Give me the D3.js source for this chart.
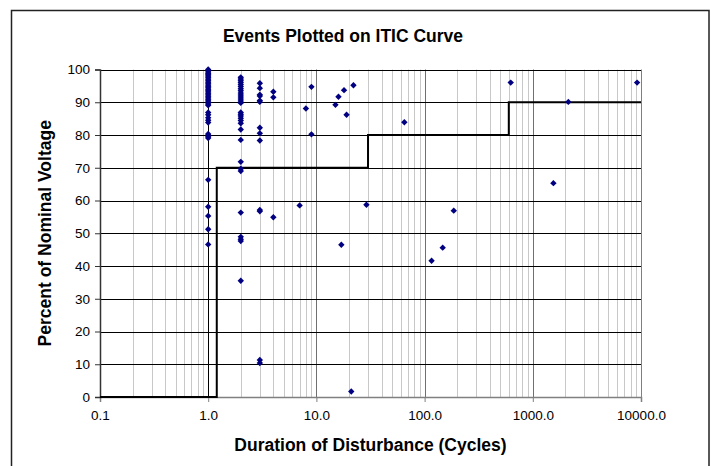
<!DOCTYPE html>
<html><head><meta charset="utf-8">
<script src="https://cdn.jsdelivr.net/npm/d3@7"></script>
<style>body{margin:0;background:#fff}svg{display:block}text{font-family:"Liberation Sans",Arial,sans-serif}</style>
</head><body><div id="chart"></div>
<script>
const titleText = "Events Plotted on ITIC Curve";
const xTitle = "Duration of Disturbance (Cycles)";
const yTitle = "Percent of Nominal Voltage";
const xTickVals = [0.1, 1, 10, 100, 1000, 10000];
const xTickLabels = ["0.1", "1.0", "10.0", "100.0", "1000.0", "10000.0"];
const yTickVals = [0, 10, 20, 30, 40, 50, 60, 70, 80, 90, 100];
const iticX = [0.1, 1.2, 1.2, 30, 30, 600, 600, 10000];
const iticY = [0, 0, 70, 70, 80, 80, 90, 90];
const eventX = [
  1,1,1,1,1,1,1,1,1,1,1,1,1,1,1,1,1,1,1,1,1,1,1,1,1,1,1,1,1,1,1,1,1,1,1,1,1,1,1,1,
  2,2,2,2,2,2,2,2,2,2,2,2,2,2,2,2,2,2,2,2,2,2,2,2,2,2,2,2,2,2,
  3,3,3,3,3,3,3,3,3,3,3,3,3,
  4,4,4,
  7,8,9,9,15,16,18,19,22,17,21,29,65,116,147,186,625,9200,2130,1550
];
const eventY = [
  100,99.6,99.2,98.8,98.4,98.0,97.6,97.1,96.7,96.2,95.8,95.3,94.9,94.4,94.0,93.5,93.1,92.6,92.2,91.7,91.3,90.8,90.4,89.9,89.5,89.1,86.9,86.2,85.3,84.5,83.8,80.3,79.9,79.5,79.1,66.3,58.1,55.3,51.2,46.6,
  97.6,97.1,96.6,96.0,95.4,94.8,94.1,93.5,92.8,92.2,91.6,91.0,90.4,89.8,86.9,86.3,85.8,85.1,84.4,83.6,81.7,78.5,71.8,69.7,69.0,56.3,48.9,48.2,47.6,35.5,
  95.8,94.3,92.3,91.9,90.5,90.1,82.2,80.5,78.3,57.1,56.7,11.3,10.4,
  93.2,91.5,54.9,
  58.5,88.1,94.7,80.2,89.2,91.7,93.7,86.2,95.2,46.5,1.7,58.7,83.9,41.6,45.6,56.9,96.0,96.0,90.1,65.3
];

const W = 711, H = 466;
const L = 100, R = 641, T = 69.5, B = 397;
const svg = d3.select("#chart").append("svg").attr("width", W).attr("height", H);
svg.append("rect").attr("x",0).attr("y",0).attr("width",W).attr("height",H).attr("fill","#fff");
svg.append("rect").attr("x",11.5).attr("y",10.5).attr("width",697.5).attr("height",470)
  .attr("fill","none").attr("stroke","#222").attr("stroke-width",1.5);

const x = d3.scaleLog().domain([0.1, 10000]).range([L, R]);
const y = d3.scaleLinear().domain([0, 100]).range([B, T]);

// minor vertical gridlines
const minor = [];
for (let e = -1; e < 4; e++) for (let m = 2; m <= 9; m++) minor.push(m * Math.pow(10, e));
svg.append("g").selectAll("line").data(minor).join("line")
  .attr("x1", d => Math.round(x(d)) + 0.5).attr("x2", d => Math.round(x(d)) + 0.5)
  .attr("y1", T).attr("y2", B).attr("stroke", "#c8c8c8").attr("stroke-width", 1);
// major vertical gridlines
svg.append("g").selectAll("line").data(xTickVals.slice(1, -1)).join("line")
  .attr("x1", d => Math.round(x(d)) + 0.5).attr("x2", d => Math.round(x(d)) + 0.5)
  .attr("y1", T).attr("y2", B).attr("stroke", d => d === 1 ? "#000" : "#707070").attr("stroke-width", 1);
// horizontal gridlines
svg.append("g").selectAll("line").data(yTickVals.slice(1)).join("line")
  .attr("x1", L).attr("x2", R)
  .attr("y1", d => Math.round(y(d)) + 0.5).attr("y2", d => Math.round(y(d)) + 0.5)
  .attr("stroke", "#000").attr("stroke-width", 1);
// plot border right
svg.append("line").attr("x1", R + 0.5).attr("x2", R + 0.5).attr("y1", T).attr("y2", B).attr("stroke", "#808080");

// axes
const xAxis = d3.axisBottom(x).tickValues(xTickVals).tickFormat((d, i) => xTickLabels[i]).tickSize(5).tickPadding(8);
const gx = svg.append("g").attr("transform", `translate(0,${B})`).call(xAxis);
gx.select(".domain").attr("stroke", "#808080").attr("stroke-width", 1.5);
gx.selectAll(".tick line").attr("stroke", "#808080");
gx.selectAll("text").attr("font-size", 13.5).attr("fill", "#000").attr("font-family", '"Liberation Sans",Arial,sans-serif');

const yAxis = d3.axisLeft(y).tickValues(yTickVals).tickSize(5).tickPadding(5);
const gy = svg.append("g").attr("transform", `translate(${L},0)`).call(yAxis);
gy.select(".domain").attr("stroke", "#333").attr("stroke-width", 1.5);
gy.selectAll(".tick line").attr("stroke", "#333");
gy.selectAll("text").attr("font-size", 13.5).attr("fill", "#000").attr("font-family", '"Liberation Sans",Arial,sans-serif');

// ITIC curve
const itic = iticX.map((v, i) => [v, iticY[i]]);
svg.append("path").datum(itic)
  .attr("d", d3.line().x(d => x(d[0])).y(d => y(d[1])))
  .attr("fill", "none").attr("stroke", "#000").attr("stroke-width", 2);

// events
const events = eventX.map((v, i) => [v, eventY[i]]);
svg.append("g").selectAll("path").data(events).join("path")
  .attr("transform", d => `translate(${x(d[0])},${y(d[1])})`)
  .attr("d", "M0,-3.2L3.2,0L0,3.2L-3.2,0Z").attr("fill", "#000080");

// titles
svg.append("text").attr("x", 343).attr("y", 42).attr("text-anchor", "middle")
  .attr("font-size", 17.5).attr("font-weight", "bold").text(titleText);
svg.append("text").attr("x", (L + R) / 2).attr("y", 451).attr("text-anchor", "middle")
  .attr("font-size", 17.5).attr("font-weight", "bold").text(xTitle);
svg.append("text").attr("transform", `translate(51,${(T + B) / 2}) rotate(-90)`).attr("text-anchor", "middle")
  .attr("font-size", 17.5).attr("font-weight", "bold").text(yTitle);
</script></body></html>
